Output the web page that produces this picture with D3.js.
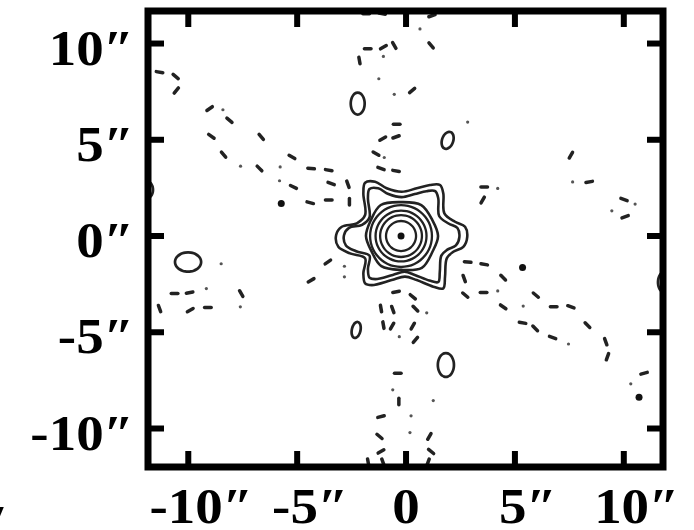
<!DOCTYPE html>
<html><head><meta charset="utf-8">
<script src="https://cdn.jsdelivr.net/npm/d3@7"></script>
<style>body{margin:0;background:#fff}</style>
</head><body>
<svg id="c" width="694" height="530" xmlns="http://www.w3.org/2000/svg"></svg>
<script>
// ---------- data (arcsec) ----------
const xTickValues = [-10, -5, 0, 5, 10];
const xTickLabels = ["-10″", "-5″", "0", "5″", "10″"];
const yTickValues = [-10, -5, 0, 5, 10];
const yTickLabels = ["-10″", "-5″", "0″", "5″", "10″"];

const psfCenter = [-0.23, 0.0];
// outer six-lobed contour: [x, y]
const starContourA = [
  [1.10, 2.65], [1.56, 2.65], [1.71, 2.22], [1.76, 1.18], [2.25, 0.74], [2.71, 0.48],
  [2.81, -0.04], [2.63, -0.56], [2.17, -0.82], [1.87, -1.16], [1.79, -2.11], [1.71, -2.72],
  [1.25, -2.63], [0.49, -2.29], [-0.05, -2.11], [-0.66, -2.29], [-1.57, -2.55], [-1.88, -2.46],
  [-1.96, -1.94], [-1.88, -1.16], [-2.57, -0.90], [-3.11, -0.56], [-3.21, 0.05], [-2.95, 0.48],
  [-2.26, 0.66], [-1.88, 1.09], [-1.96, 2.22], [-1.88, 2.77], [-1.42, 2.82], [-0.89, 2.48],
  [-0.20, 2.30], [0.49, 2.48]
];
// second six-lobed contour
const starContourB = [
  [0.94, 2.33], [1.34, 2.33], [1.48, 1.95], [1.52, 1.04], [1.95, 0.65], [2.36, 0.42],
  [2.45, -0.04], [2.29, -0.49], [1.88, -0.72], [1.62, -1.02], [1.55, -1.86], [1.48, -2.39],
  [1.07, -2.31], [0.40, -2.02], [-0.07, -1.86], [-0.61, -2.02], [-1.41, -2.24], [-1.68, -2.16],
  [-1.75, -1.71], [-1.68, -1.02], [-2.29, -0.79], [-2.76, -0.49], [-2.85, 0.04], [-2.62, 0.42],
  [-2.02, 0.58], [-1.68, 0.96], [-1.75, 1.95], [-1.68, 2.44], [-1.28, 2.48], [-0.81, 2.18],
  [-0.20, 2.02], [0.40, 2.18]
];
// squarish third contour: radii (arcsec) at polar angles (deg)
const squareAngles = [0, -30, -60, -90, -120, -150, -180, -210, -240, -270, -300, -330];
const squareRadii = [1.70, 1.66, 1.91, 1.76, 1.81, 1.57, 1.61, 1.61, 1.86, 1.76, 1.86, 1.66];
// inner near-circular contours: [rx, ry]
const ringContours = [[1.42, 1.61], [1.17, 1.32], [0.96, 1.09], [0.69, 0.78]];

// isolated positive contours: [x, y, rx, ry, tilt]
const blobContours = [
  [-2.22, 6.88, 0.32, 0.57, 0],
  [1.91, 4.97, 0.26, 0.45, -15],
  [-10.01, -1.35, 0.60, 0.50, 0],
  [-2.29, -4.88, 0.20, 0.42, -10],
  [1.83, -6.70, 0.37, 0.62, 0],
  [-11.92, 2.40, 0.30, 0.45, 0],
  [11.82, -2.40, 0.25, 0.50, 0]
];

// negative (dashed) contour fragments: [x, y, tilt deg]
const negDashes = [
  [-11.32, 8.51, -10], [-10.58, 8.29, -40], [-10.55, 7.56, 50], [-9.02, 6.62, 35],
  [-8.11, 6.01, -40], [-8.94, 5.18, -35], [-6.65, 5.15, -50], [-8.38, 4.23, -50],
  [-6.73, 3.51, -45], [-5.24, 4.11, -30], [-4.36, 3.51, -5], [-3.55, 3.42, -10],
  [-5.17, 2.55, -25], [-3.44, 2.73, -20], [-2.67, 2.69, -70], [-4.40, 1.73, -15],
  [-3.55, 1.87, 0], [-2.60, 1.78, -90], [-1.76, 9.73, 0], [-1.04, 9.81, 30],
  [-0.54, 9.90, -60], [-2.14, 9.12, -80], [-0.43, 5.80, 0], [-1.07, 5.06, 30],
  [-0.46, 5.15, 20], [-1.38, 4.28, -30], [-1.15, 3.51, -20], [-0.46, 3.38, -10],
  [1.15, 9.90, -50], [0.28, 7.56, 40], [7.57, 4.20, 60], [8.41, 2.81, 10],
  [3.59, 2.55, 0], [3.52, 1.87, 60], [10.01, 1.90, -20], [10.06, 1.00, 20],
  [-3.59, -1.35, 35], [-4.36, -2.30, 30], [-10.63, -2.99, 0], [-9.94, -2.94, 10],
  [-7.57, -2.99, -60], [-11.32, -3.77, -70], [-9.91, -3.85, 30], [-9.10, -3.72, 0],
  [-0.46, -2.90, 10], [-1.15, -3.77, -80], [-0.61, -3.82, -70], [-1.04, -4.63, -80],
  [-0.64, -4.68, 60], [-0.38, -7.13, 0], [-0.33, -8.60, -90], [-1.15, -9.38, 15],
  [-1.22, -10.41, -40], [-1.15, -11.19, 30], [2.83, -1.35, -5], [3.59, -1.47, -10],
  [2.67, -2.21, -70], [4.46, -2.16, -45], [2.72, -3.07, -40], [3.56, -2.94, 0],
  [5.96, -3.07, -40], [4.46, -3.68, -35], [6.78, -3.68, 0], [7.57, -3.68, -20],
  [5.35, -4.51, -10], [5.93, -4.80, -45], [8.33, -4.63, -45], [6.73, -5.27, -20],
  [9.17, -5.49, -70], [9.25, -6.27, 70], [10.93, -7.13, 15], [0.31, -3.16, -40],
  [0.43, -3.77, -45], [0.31, -4.68, 60], [0.43, -5.40, 50], [1.07, -10.41, 60],
  [1.15, -11.19, -40], [-1.83, 11.55, 0], [-1.10, 11.55, -10], [1.19, 11.45, 20],
  [-1.74, -11.75, -80], [-1.06, -11.75, -70], [1.01, -11.75, 70]
];
// negative fragments too small to show as dashes: [x, y]
const negDots = [
  [-8.41, 6.56], [-7.60, 3.63], [-5.78, 3.59], [-5.81, 2.87], [-1.04, 9.33],
  [-1.25, 8.17], [-0.54, 7.36], [-1.00, 4.08], [0.64, 10.76], [2.83, 5.92],
  [7.65, 2.81], [4.21, 2.47], [10.52, 1.66], [9.45, 1.31], [-2.83, -1.57],
  [-2.83, -2.12], [-9.17, -2.73], [-7.61, -3.68], [-8.49, -1.44], [-0.31, -5.23],
  [-0.61, -7.99], [4.21, -2.85], [5.38, -3.64], [7.46, -5.61], [10.32, -7.68],
  [0.95, -3.99], [1.25, -8.55], [0.23, -9.34], [0.18, -10.21]
];
// compact filled contour knots: [x, y]
const solidKnots = [[-5.73, 1.69], [5.35, -1.64], [10.70, -8.38], [-0.23, 0.0]];

// ---------- layout ----------
const pL = 148, pR = 663, pT = 11, pB = 467;
const x = d3.scaleLinear().domain([-11.85, 11.8]).range([pL, pR]);
const y = d3.scaleLinear().domain([-12.0, 11.69]).range([pB, pT]);

const svg = d3.select("#c");
const ink = "#222";
const rad = Math.PI / 180;

svg.append("defs").append("clipPath").attr("id", "plotClip")
  .append("rect").attr("x", pL).attr("y", pT)
  .attr("width", pR - pL).attr("height", pB - pT);

const plot = svg.append("g").attr("clip-path", "url(#plotClip)");

const closedLine = d3.line().x(d => x(d[0])).y(d => y(d[1])).curve(d3.curveCatmullRomClosed.alpha(0.5));

function ellipsePoints(cx, cy, rx, ry, tilt) {
  const n = 28, pts = [];
  const t = (tilt || 0) * rad;
  for (let i = 0; i < n; i++) {
    const a = i / n * 2 * Math.PI;
    const ex = rx * Math.cos(a), ey = ry * Math.sin(a);
    pts.push([cx + ex * Math.cos(t) - ey * Math.sin(t), cy + ex * Math.sin(t) + ey * Math.cos(t)]);
  }
  return pts;
}
const squarePts = squareRadii.map((r, i) => [psfCenter[0] + r * Math.cos(squareAngles[i] * rad),
                                              psfCenter[1] + r * Math.sin(squareAngles[i] * rad)]);

[starContourA, starContourB, squarePts].forEach(p => {
  plot.append("path").attr("d", closedLine(p))
    .attr("fill", "none").attr("stroke", ink).attr("stroke-width", 2.6);
});
ringContours.forEach(r => {
  plot.append("path").attr("d", closedLine(ellipsePoints(psfCenter[0], psfCenter[1], r[0], r[1], 0)))
    .attr("fill", "none").attr("stroke", ink).attr("stroke-width", 2.3);
});
blobContours.forEach(b => {
  plot.append("path").attr("d", closedLine(ellipsePoints(b[0], b[1], b[2], b[3], b[4])))
    .attr("fill", "none").attr("stroke", ink).attr("stroke-width", 2.7);
});

const halfLen = 3.3;
plot.selectAll("line.neg").data(negDashes).join("line").attr("class", "neg")
  .attr("x1", d => x(d[0]) - halfLen * Math.cos(d[2] * rad))
  .attr("y1", d => y(d[1]) + halfLen * Math.sin(d[2] * rad))
  .attr("x2", d => x(d[0]) + halfLen * Math.cos(d[2] * rad))
  .attr("y2", d => y(d[1]) - halfLen * Math.sin(d[2] * rad))
  .attr("stroke", ink).attr("stroke-width", 3.5).attr("stroke-linecap", "round");
plot.selectAll("circle.dot").data(negDots).join("circle").attr("class", "dot")
  .attr("cx", d => x(d[0])).attr("cy", d => y(d[1])).attr("r", 1.6).attr("fill", "#555");
plot.selectAll("circle.knot").data(solidKnots).join("circle").attr("class", "knot")
  .attr("cx", d => x(d[0])).attr("cy", d => y(d[1])).attr("r", 3.5).attr("fill", "#111");

// ---------- axes ----------
const tickLen = 16;
const axG = svg.append("g").attr("stroke", "#000").attr("stroke-width", 6);
xTickValues.forEach(v => {
  axG.append("line").attr("x1", x(v)).attr("x2", x(v)).attr("y1", pB).attr("y2", pB - tickLen);
  axG.append("line").attr("x1", x(v)).attr("x2", x(v)).attr("y1", pT).attr("y2", pT + tickLen);
});
yTickValues.forEach(v => {
  axG.append("line").attr("y1", y(v)).attr("y2", y(v)).attr("x1", pL).attr("x2", pL + tickLen);
  axG.append("line").attr("y1", y(v)).attr("y2", y(v)).attr("x1", pR).attr("x2", pR - tickLen);
});
svg.append("rect").attr("x", pL).attr("y", pT).attr("width", pR - pL).attr("height", pB - pT)
  .attr("fill", "none").attr("stroke", "#000").attr("stroke-width", 7);

const font = "'Liberation Serif','Times New Roman',serif";
const stretch = 1.1;
svg.selectAll("text.xl").data(xTickValues).join("text").attr("class", "xl")
  .attr("transform", (d, i) => `translate(${x(d) + (xTickLabels[i].includes("″") ? 13 : 0)},523) scale(${stretch},1)`)
  .attr("text-anchor", "middle")
  .attr("font-family", font).attr("font-weight", "bold").attr("font-size", 50)
  .text((d, i) => xTickLabels[i]);
svg.selectAll("text.yl").data(yTickValues).join("text").attr("class", "yl")
  .attr("transform", d => `translate(134,${y(d) + 21}) scale(${stretch},1)`)
  .attr("text-anchor", "end")
  .attr("font-family", font).attr("font-weight", "bold").attr("font-size", 50)
  .text((d, i) => yTickLabels[i]);
svg.append("text").attr("x", 7).attr("y", 540).attr("text-anchor", "end")
  .attr("font-family", font).attr("font-weight", "bold").attr("font-size", 50).text("′");
</script>
</body></html>
